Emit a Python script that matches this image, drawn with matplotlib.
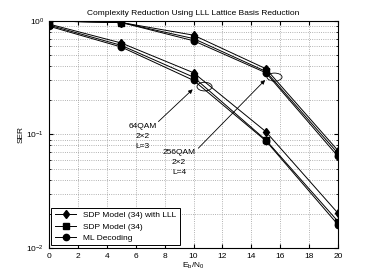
import numpy as np
import matplotlib
matplotlib.use("Agg")
from matplotlib import pyplot as plt
from matplotlib.patches import Ellipse

plt.rcParams['font.family'] = ['Liberation Sans', 'DejaVu Sans']
plt.rcParams['mathtext.fontset'] = 'custom'
plt.rcParams['mathtext.rm'] = 'Liberation Sans'
plt.rcParams['mathtext.it'] = 'Liberation Sans'

# Eb/N0 in dB
ebn0 = [0, 5, 10, 15, 20]

# 256QAM, 2x2, L=4
ser256_lll = [1.0, 0.97, 0.75, 0.38, 0.072]
ser256_sdp = [1.0, 0.97, 0.70, 0.36, 0.068]
ser256_ml = [1.0, 0.97, 0.67, 0.35, 0.064]

# 64QAM, 2x2, L=3
ser64_lll = [0.94, 0.64, 0.35, 0.106, 0.0202]
ser64_sdp = [0.92, 0.61, 0.32, 0.0895, 0.0171]
ser64_ml = [0.90, 0.59, 0.30, 0.088, 0.016]

fig = plt.figure(figsize=(3.74, 2.8), dpi=100)
ax = fig.add_axes([0.131, 0.1143, 0.773, 0.8107])

style = dict(color='k', lw=0.7, ms=4.5, mfc='k', mec='k')
ax.semilogy(ebn0, ser256_lll, 'd-', label='SDP Model (34) with LLL', **style)
ax.semilogy(ebn0, ser256_sdp, 's-', label='SDP Model (34)', **style)
ax.semilogy(ebn0, ser256_ml, 'o-', label='ML Decoding', **style)
ax.semilogy(ebn0, ser64_lll, 'd-', **style)
ax.semilogy(ebn0, ser64_sdp, 's-', **style)
ax.semilogy(ebn0, ser64_ml, 'o-', **style)

ax.set_xlim(0, 20)
ax.set_ylim(1e-2, 1)
ax.set_xticks(np.arange(0, 21, 2))
ax.grid(True, which='both', ls=':', color='#999999', lw=0.6)
ax.tick_params(which='both', direction='in', top=True, right=True,
               labelsize=6, length=3)
ax.tick_params(which='minor', length=1.5)

# ellipses marking the curve groups (axes coordinates)
ax.add_patch(Ellipse((0.538, 0.711), 0.052, 0.038, transform=ax.transAxes,
                     fill=False, color='k', lw=0.6))
ax.add_patch(Ellipse((0.780, 0.753), 0.052, 0.035, transform=ax.transAxes,
                     fill=False, color='k', lw=0.6))

arrow = dict(arrowstyle='-|>', color='k', lw=0.6, mutation_scale=6,
             shrinkA=0, shrinkB=0)
ax.annotate('', xy=(9.94, 0.25), xytext=(7.57, 0.130), arrowprops=arrow)
ax.annotate('', xy=(14.95, 0.302), xytext=(10.33, 0.0757), arrowprops=arrow)

ax.text(6.47, 0.125, '64QAM\n2\u00d72\nL=3', ha='center', va='top',
        fontsize=6, linespacing=1.55)
ax.text(9.0, 0.074, '256QAM\n2\u00d72\nL=4', ha='center', va='top',
        fontsize=6, linespacing=1.55)

ax.set_title('Complexity Reduction Using LLL Lattice Basis Reduction',
             fontsize=6, pad=4)
ax.set_xlabel('E$_b$/N$_0$', fontsize=6, labelpad=1)
ax.set_ylabel('SER', fontsize=6, labelpad=1)

leg = ax.legend(loc='lower left', fontsize=6, fancybox=False,
                edgecolor='k', framealpha=1, borderaxespad=0.3,
                handlelength=2.6, labelspacing=0.45, borderpad=0.4)
leg.get_frame().set_linewidth(0.7)

fig.savefig('out.png', dpi=100)
